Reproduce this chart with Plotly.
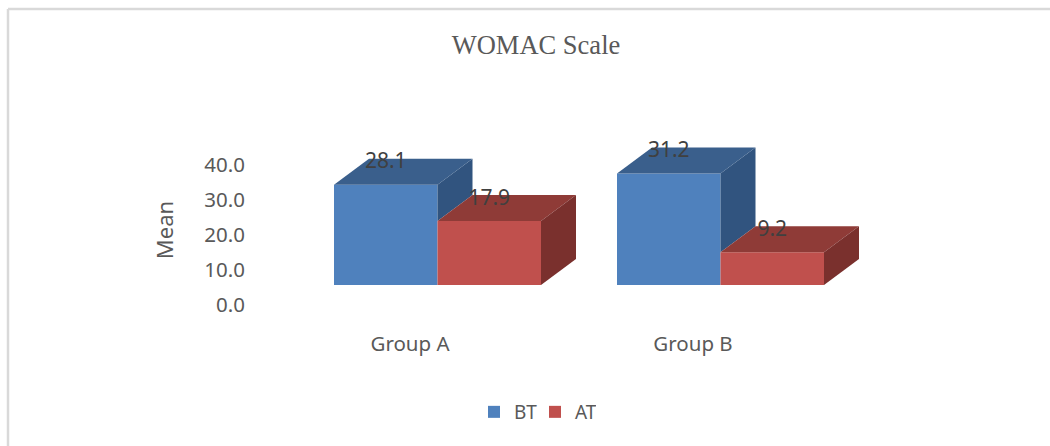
import plotly.graph_objects as go

W, H = 1050, 446

groups = ["Group A", "Group B"]
series_names = ["BT", "AT"]
bt_values = [28.1, 31.2]
at_values = [17.9, 9.2]
tick_values = [0, 10, 20, 30, 40]

FRONT = {"BT": "#4f81bd", "AT": "#c0504d"}
TOP = {"BT": "#3a5f8c", "AT": "#8f3b37"}
SIDE = {"BT": "#31547f", "AT": "#7a302d"}

# category step and bar geometry in axis units
BAR_W = 103.5 / 283
DX = 35 / 283      # depth shift along x
DY = 26 / 3.57     # depth shift along value axis
LABEL_LIFT = 6.05


def px_x(p):
    return p / W


def px_y(p):
    return 1 - p / H


positions = list(range(len(groups)))
fig = go.Figure()

# front faces
for name, vals, off in (("BT", bt_values, -BAR_W / 2), ("AT", at_values, BAR_W / 2)):
    fig.add_trace(go.Bar(
        x=[p + off for p in positions], y=vals, width=BAR_W, name=name,
        marker=dict(color=FRONT[name], line=dict(width=0)),
        xaxis="x2", yaxis="y2", hoverinfo="skip",
    ))


def poly(xs, ys, color):
    fig.add_trace(go.Scatter(
        x=xs, y=ys, mode="lines", fill="toself", fillcolor=color,
        line=dict(width=0), showlegend=False, hoverinfo="skip",
        xaxis="x2", yaxis="y2",
    ))


# depth faces
for p, bt, at in zip(positions, bt_values, at_values):
    l, m, r = p - BAR_W, p, p + BAR_W
    # visible part of the BT side wall
    poly([m, m + DX, m + DX, m], [bt, bt + DY, at + DY, at], SIDE["BT"])
    poly([l, l + DX, m + DX, m], [bt, bt + DY, bt + DY, bt], TOP["BT"])
    poly([m, m + DX, r + DX, r], [at, at + DY, at + DY, at], TOP["AT"])
    poly([r, r + DX, r + DX, r], [0, DY, at + DY, at], SIDE["AT"])

# data labels
lab_x, lab_y, lab_t = [], [], []
for p, bt, at in zip(positions, bt_values, at_values):
    lab_x += [p - BAR_W / 2, p + BAR_W / 2]
    lab_y += [bt + LABEL_LIFT, at + LABEL_LIFT]
    lab_t += [f"{bt:.1f}", f"{at:.1f}"]
fig.add_trace(go.Scatter(
    x=lab_x, y=lab_y, text=lab_t, mode="text", textposition="middle center",
    textfont=dict(family="Noto Sans", size=21, color="#404040"),
    showlegend=False, hoverinfo="skip", xaxis="x2", yaxis="y2",
))

# carrier trace for the visible tick axes
fig.add_trace(go.Scatter(
    x=groups, y=[tick_values[0]] * len(groups), mode="markers",
    marker=dict(opacity=0), showlegend=False, hoverinfo="skip",
    xaxis="x", yaxis="y",
))

AX_TOP, AX_BOT = 120, 340
FONT = dict(family="Noto Sans", size=20.5, color="#595959")

fig.update_layout(
    width=W, height=H, autosize=False,
    margin=dict(l=0, r=0, t=0, b=0),
    paper_bgcolor="white", plot_bgcolor="rgba(0,0,0,0)",
    barmode="overlay", font=FONT,
    title=dict(text="WOMAC Scale", x=536 / W, xanchor="center", y=px_y(45), yanchor="middle",
               font=dict(family="Liberation Serif", size=26.5, color="#595959")),
    xaxis=dict(
        type="category", categoryorder="array", categoryarray=groups,
        range=[-0.5, 1.5], domain=[px_x(268.5), px_x(834.5)],
        anchor="free", position=px_y(329),
        showgrid=False, showline=False, zeroline=False, ticks="", tickfont=FONT,
    ),
    yaxis=dict(
        range=[(305 - AX_BOT) / 3.5, (305 - AX_TOP) / 3.5],
        domain=[px_y(AX_BOT), px_y(AX_TOP)],
        anchor="free", position=px_x(245),
        tickmode="array", tickvals=tick_values,
        ticktext=[f"{v:.1f}" for v in tick_values],
        showgrid=False, showline=False, zeroline=False, ticks="", tickfont=FONT,
        title=dict(text="Mean", font=dict(family="Noto Sans", size=22, color="#595959"), standoff=23),
    ),
    xaxis2=dict(
        range=[-0.5, 1.5], domain=[px_x(296), px_x(862)], anchor="y2", visible=False,
    ),
    yaxis2=dict(
        range=[(285 - AX_BOT) / 3.57, (285 - AX_TOP) / 3.57],
        domain=[px_y(AX_BOT), px_y(AX_TOP)], anchor="x2", visible=False,
    ),
    legend=dict(
        orientation="h", x=535 / W, xanchor="center", y=px_y(412), yanchor="middle",
        font=dict(family="Noto Sans", size=19, color="#595959"),
        bgcolor="rgba(0,0,0,0)", traceorder="normal",
        entrywidth=16, entrywidthmode="pixels",
    ),
    shapes=[
        dict(type="line", xref="paper", yref="paper", x0=px_x(8), x1=1, y0=px_y(9), y1=px_y(9),
             line=dict(color="#d9d9d9", width=2.5), layer="below"),
        dict(type="line", xref="paper", yref="paper", x0=px_x(8), x1=px_x(8), y0=0, y1=px_y(9),
             line=dict(color="#d9d9d9", width=2.5), layer="below"),
    ],
)

fig.write_html("out.html", post_script="document.body.style.margin='0';",
               config={"displayModeBar": False})
